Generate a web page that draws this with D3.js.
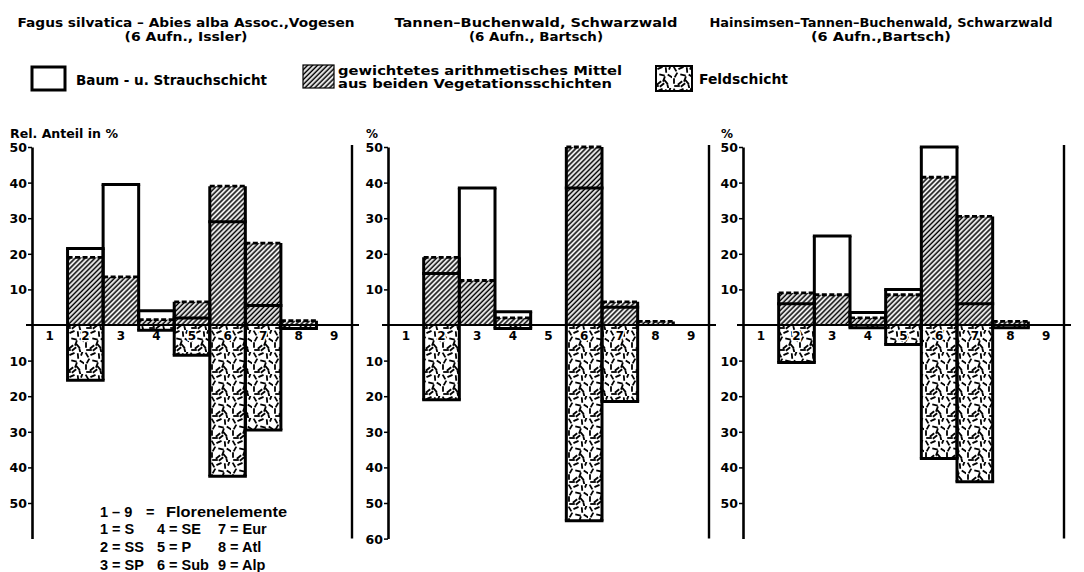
<!DOCTYPE html>
<html>
<head>
<meta charset="utf-8">
<script src="https://cdn.jsdelivr.net/npm/d3@7"></script>
<style>
  html, body { margin: 0; padding: 0; background: #fff; }
  svg { display: block; font-family: "DejaVu Sans", "Liberation Sans", sans-serif; font-weight: bold; }
</style>
</head>
<body>
<svg id="chart" width="1084" height="572"></svg>
<script>
// Florenelemente 1–9
const categories = [1, 2, 3, 4, 5, 6, 7, 8, 9];

// Fagus silvatica – Abies alba Assoc., Vogesen (6 Aufn., Issler)
const baumVogesen   = [0, 21.5, 39.5, 4.0, 2.0, 29.0, 5.5, 0, 0];
const mittelVogesen = [0, 19.0, 13.5, 1.5, 6.5, 39.0, 23.0, 1.2, 0];
const feldVogesen   = [0, 15.5, 0, 1.5, 8.5, 42.5, 29.5, 1.0, 0];

// Tannen-Buchenwald, Schwarzwald (6 Aufn., Bartsch)
const baumTannen    = [0, 14.5, 38.5, 3.7, 0, 38.5, 5.0, 0, 0];
const mittelTannen  = [0, 19.0, 12.5, 2.0, 0, 50.0, 6.5, 1.0, 0];
const feldTannen    = [0, 21.0, 0, 1.0, 0, 55.0, 21.5, 0, 0];

// Hainsimsen-Tannen-Buchenwald, Schwarzwald (6 Aufn., Bartsch)
const baumHainsimsen   = [0, 6.0, 25.0, 3.5, 10.0, 50.0, 6.0, 0, 0];
const mittelHainsimsen = [0, 9.0, 8.5, 2.0, 8.5, 41.5, 30.5, 1.0, 0];
const feldHainsimsen   = [0, 10.5, 0, 0.8, 5.5, 37.5, 44.0, 0.8, 0];

// axis ticks
const upperTicks = [10, 20, 30, 40, 50];
const lowerTicks = [10, 20, 30, 40, 50];
const lowerTicksTannen = [10, 20, 30, 40, 50, 60];

// titles and key texts
const titlesLine1 = ["Fagus silvatica – Abies alba Assoc.,Vogesen", "Tannen–Buchenwald, Schwarzwald", "Hainsimsen–Tannen–Buchenwald, Schwarzwald"];
const titlesLine2 = ["(6 Aufn., Issler)", "(6 Aufn., Bartsch)", "(6 Aufn.,Bartsch)"];
const axisTitles = ["Rel. Anteil in %", "%", "%"];
const elementKey = [
  ["1 = S", "4 = SE", "7 = Eur"],
  ["2 = SS", "5 = P", "8 = Atl"],
  ["3 = SP", "6 = Sub", "9 = Alp"]
];

const svg = d3.select("#chart");
const defs = svg.append("defs");

// diagonal hatching for the weighted mean
const hatch = defs.append("pattern")
  .attr("id", "hatch")
  .attr("patternUnits", "userSpaceOnUse")
  .attr("width", 3.5).attr("height", 10)
  .attr("patternTransform", "rotate(45)");
hatch.append("rect").attr("width", 3.5).attr("height", 10).attr("fill", "#fff");
hatch.append("line")
  .attr("x1", 1.2).attr("x2", 1.2).attr("y1", 0).attr("y2", 10)
  .attr("stroke", "#000").attr("stroke-width", 1.6);

// short scattered strokes for the field layer
const strokeTexture = [
  [3, 3, 60], [9, 2, -25], [15, 4, 85], [19, 10, 35], [4, 9, -60],
  [11, 9, 15], [2, 15, 90], [8, 17, -40], [15, 16, 50], [19, 1, -70],
  [13, 13, 110], [5, 20, 0], [17, 21, 75], [11, 19, 140]
];
const feldPat = defs.append("pattern")
  .attr("id", "feld")
  .attr("patternUnits", "userSpaceOnUse")
  .attr("width", 21).attr("height", 22);
feldPat.append("rect").attr("width", 21).attr("height", 22).attr("fill", "#fff");
feldPat.selectAll("line")
  .data(strokeTexture)
  .join("line")
  .attr("transform", d => `translate(${d[0]},${d[1]}) rotate(${d[2]})`)
  .attr("x1", -2.8).attr("x2", 2.8).attr("y1", 0).attr("y2", 0)
  .attr("stroke", "#000").attr("stroke-width", 1.8).attr("stroke-linecap", "butt");

// common vertical scale: positive = upward (trees/shrubs), negative = field layer
const y = d3.scaleLinear().domain([-60, 50]).range([538.6, 147]);

const panels = [
  { x0: 32,  x1: 352,  cx: 186, t1w: 337, t2w: 123, baum: baumVogesen,    mittel: mittelVogesen,    feld: feldVogesen,    lower: lowerTicks },
  { x0: 388, x1: 709,  cx: 536, t1w: 283, t2w: 134, baum: baumTannen,     mittel: mittelTannen,     feld: feldTannen,     lower: lowerTicksTannen },
  { x0: 743, x1: 1064, cx: 881, t1w: 343, t2w: 140, baum: baumHainsimsen, mittel: mittelHainsimsen, feld: feldHainsimsen, lower: lowerTicks }
];

panels.forEach((p, pi) => {
  const x = d3.scaleBand().domain(categories).range([p.x0, p.x1]);
  const bw = x.bandwidth();
  const rows = categories.map((c, i) => ({ cat: c, baum: p.baum[i], mittel: p.mittel[i], feld: p.feld[i] }));
  const g = svg.append("g");

  // titles
  g.append("text").attr("x", p.cx).attr("y", 27).attr("text-anchor", "middle")
    .attr("font-size", 13).attr("textLength", p.t1w).attr("lengthAdjust", "spacingAndGlyphs")
    .text(titlesLine1[pi]);
  g.append("text").attr("x", p.cx).attr("y", 41).attr("text-anchor", "middle")
    .attr("font-size", 13).attr("textLength", p.t2w).attr("lengthAdjust", "spacingAndGlyphs")
    .text(titlesLine2[pi]);

  // axis caption
  const cap = g.append("text").attr("x", pi === 0 ? 10 : p.x0 - 22).attr("y", 138)
    .attr("font-size", 12).text(axisTitles[pi]);
  if (pi === 0) cap.attr("textLength", 108).attr("lengthAdjust", "spacingAndGlyphs");

  // weighted mean (hatched)
  g.selectAll("rect.mittel")
    .data(rows.filter(d => d.mittel > 0))
    .join("rect").attr("class", "mittel")
    .attr("x", d => x(d.cat)).attr("width", bw)
    .attr("y", d => y(d.mittel)).attr("height", d => y(0) - y(d.mittel))
    .attr("fill", "url(#hatch)");

  // field layer (below zero)
  g.selectAll("rect.feld")
    .data(rows.filter(d => d.feld > 0))
    .join("rect").attr("class", "feld")
    .attr("x", d => x(d.cat)).attr("width", bw)
    .attr("y", y(0)).attr("height", d => y(-d.feld) - y(0))
    .attr("fill", "url(#feld)");

  // zero line
  g.append("line")
    .attr("x1", p.x0 - 6).attr("x2", p.x1 + 7)
    .attr("y1", y(0)).attr("y2", y(0))
    .attr("stroke", "#000").attr("stroke-width", 2.2);

  // category numbers under the zero line
  g.selectAll("text.cat")
    .data(rows)
    .join("text").attr("class", "cat")
    .attr("x", d => x(d.cat) + bw / 2).attr("y", y(0) + 15)
    .attr("text-anchor", "middle").attr("font-size", 12)
    .attr("stroke", "#fff").attr("stroke-width", 3).attr("paint-order", "stroke")
    .text(d => d.cat);

  const drawn = rows.filter(d => d.baum > 0 || d.mittel > 0 || d.feld > 0);
  const outline = g.append("g").attr("stroke", "#000").attr("fill", "none");

  // column sides
  outline.selectAll("path.side")
    .data(drawn)
    .join("path").attr("class", "side")
    .attr("stroke-width", 3)
    .attr("d", d => {
      const top = y(Math.max(d.baum, d.mittel));
      const bot = y(-d.feld);
      const xl = x(d.cat), xr = x(d.cat) + bw;
      return `M${xl},${bot}V${top}M${xr},${bot}V${top}`;
    });

  // tree/shrub layer top (solid)
  outline.selectAll("line.baum")
    .data(rows.filter(d => d.baum > 0))
    .join("line").attr("class", "baum")
    .attr("stroke-width", 3).attr("stroke-linecap", "square")
    .attr("x1", d => x(d.cat)).attr("x2", d => x(d.cat) + bw)
    .attr("y1", d => y(d.baum)).attr("y2", d => y(d.baum));

  // weighted mean top (dashed)
  outline.selectAll("line.mittel")
    .data(rows.filter(d => d.mittel > 0))
    .join("line").attr("class", "mittel")
    .attr("stroke-width", 2.8).attr("stroke-dasharray", "5,2.5")
    .attr("x1", d => x(d.cat)).attr("x2", d => x(d.cat) + bw)
    .attr("y1", d => y(d.mittel)).attr("y2", d => y(d.mittel));

  // field layer bottom (solid)
  outline.selectAll("line.feld")
    .data(rows.filter(d => d.feld > 0))
    .join("line").attr("class", "feld")
    .attr("stroke-width", 3).attr("stroke-linecap", "square")
    .attr("x1", d => x(d.cat)).attr("x2", d => x(d.cat) + bw)
    .attr("y1", d => y(-d.feld)).attr("y2", d => y(-d.feld));

  // left axis: values above and below zero, labelled as absolute percentages
  const ax = g.append("g")
    .attr("transform", `translate(${p.x0},0)`)
    .call(d3.axisLeft(y)
      .tickValues(upperTicks.concat(p.lower.map(v => -v)))
      .tickFormat(d => Math.abs(d))
      .tickSize(4).tickSizeOuter(0).tickPadding(1));
  ax.attr("font-family", null).attr("font-size", null);
  ax.select(".domain").attr("stroke-width", 2.6);
  ax.selectAll(".tick line").attr("stroke-width", 1.5);
  ax.selectAll(".tick text").attr("font-size", 12.5).attr("fill", "#000").attr("dy", "0.36em");

  // right frame
  g.append("line")
    .attr("x1", p.x1).attr("x2", p.x1)
    .attr("y1", y(50) - 2).attr("y2", y(-60))
    .attr("stroke", "#000").attr("stroke-width", 2.4);
});

// legend
const legend = svg.append("g").attr("font-size", 13.5);
legend.append("rect").attr("x", 32).attr("y", 67).attr("width", 33).attr("height", 23)
  .attr("fill", "#fff").attr("stroke", "#000").attr("stroke-width", 3);
legend.append("text").attr("x", 76).attr("y", 85)
  .attr("textLength", 191).attr("lengthAdjust", "spacingAndGlyphs").text("Baum - u. Strauchschicht");

legend.append("rect").attr("x", 303).attr("y", 65).attr("width", 31).attr("height", 23)
  .attr("fill", "url(#hatch)").attr("stroke", "#000").attr("stroke-width", 1.2);
legend.append("text").attr("x", 338).attr("y", 75).attr("font-size", 12.5)
  .attr("textLength", 284).attr("lengthAdjust", "spacingAndGlyphs").text("gewichtetes arithmetisches Mittel");
legend.append("text").attr("x", 338).attr("y", 88).attr("font-size", 12.5)
  .attr("textLength", 274).attr("lengthAdjust", "spacingAndGlyphs").text("aus beiden Vegetationsschichten");

legend.append("rect").attr("x", 656).attr("y", 66).attr("width", 36).attr("height", 25)
  .attr("fill", "url(#feld)").attr("stroke", "#000").attr("stroke-width", 2);
legend.append("text").attr("x", 699).attr("y", 84)
  .attr("textLength", 89).attr("lengthAdjust", "spacingAndGlyphs").text("Feldschicht");

// key to the floristic elements
const key = svg.append("g")
  .attr("font-family", "'Liberation Sans', Arial, sans-serif")
  .attr("font-size", 14.5);
key.append("text").attr("x", 100).attr("y", 517).text("1 – 9");
key.append("text").attr("x", 146).attr("y", 517).text("=");
key.append("text").attr("x", 166).attr("y", 517)
  .attr("textLength", 121).attr("lengthAdjust", "spacingAndGlyphs").text("Florenelemente");
const colX = [100, 157, 218];
elementKey.forEach((row, ri) => {
  key.selectAll(null)
    .data(row)
    .join("text")
    .attr("x", (d, ci) => colX[ci])
    .attr("y", 534 + ri * 18)
    .text(d => d);
});
</script>
</body>
</html>
